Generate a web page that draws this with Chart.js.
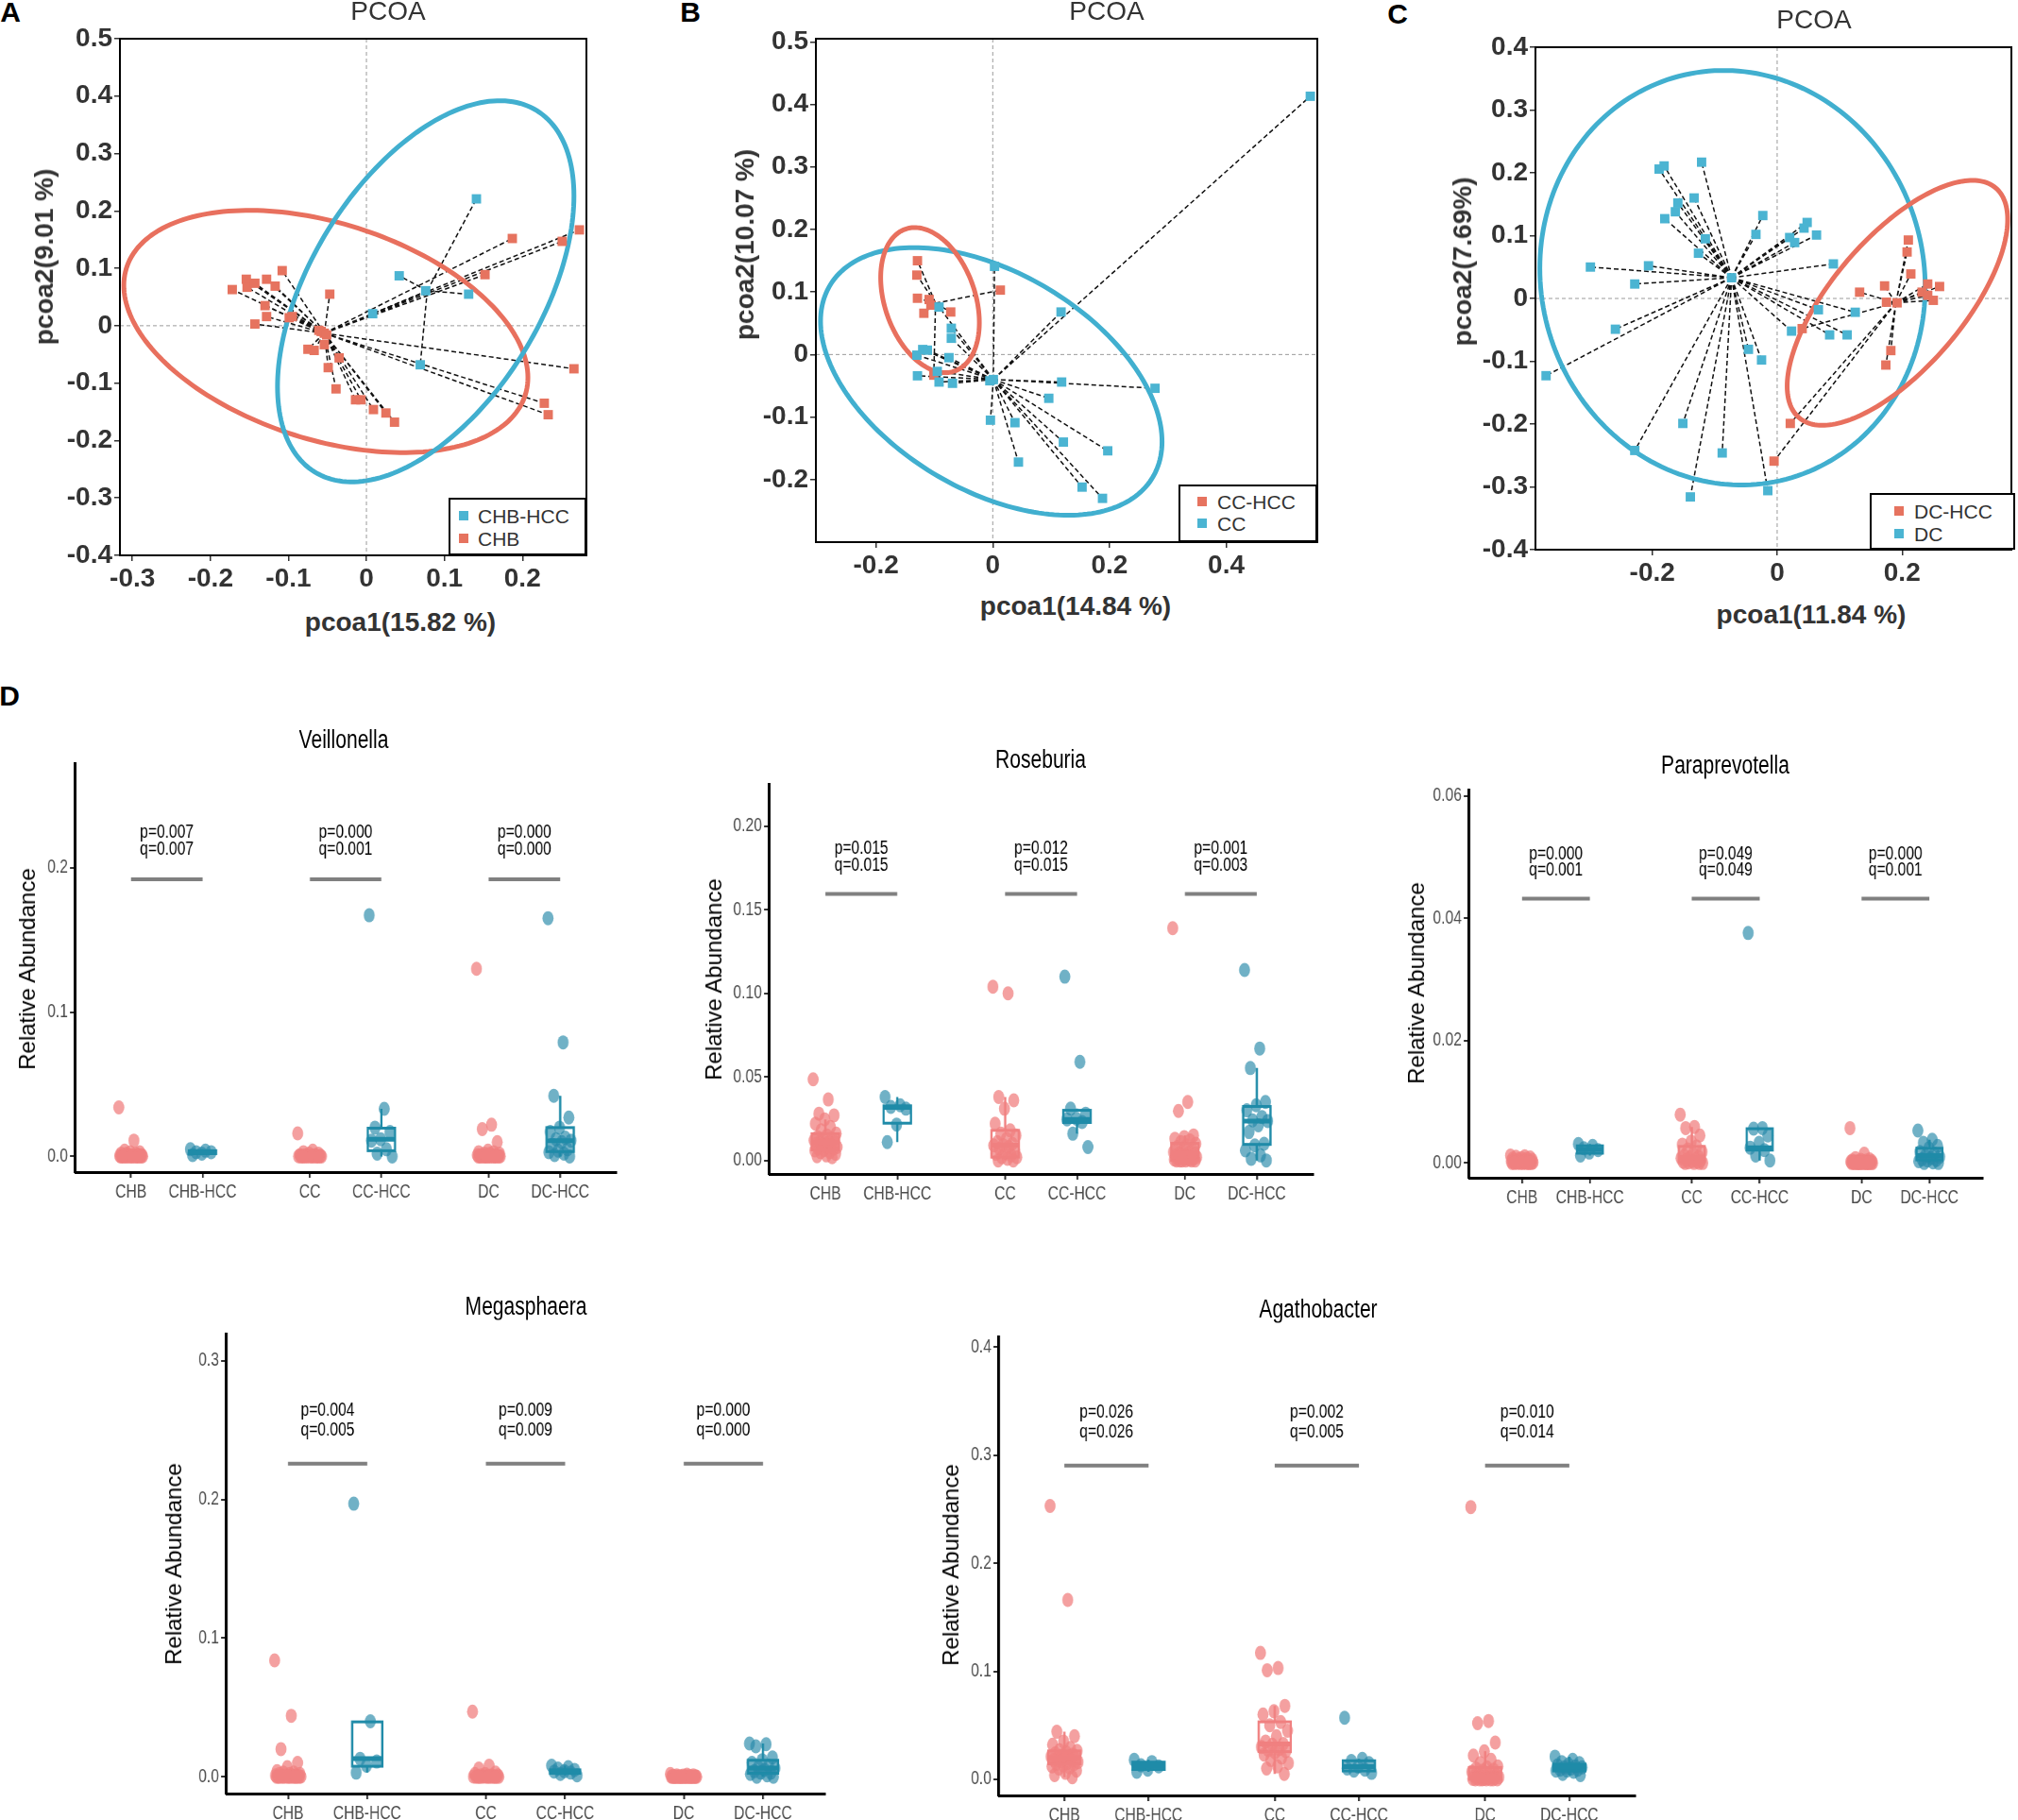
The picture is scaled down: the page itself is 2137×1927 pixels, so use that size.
<!DOCTYPE html>
<html>
<head>
<meta charset="utf-8">
<title>PCoA and relative abundance</title>
<script src="https://cdn.jsdelivr.net/npm/chart.js@4.4.1/dist/chart.umd.min.js"></script>
<style>
  html, body { margin: 0; padding: 0; background: #fff; }
  body { position: relative; width: 2137px; height: 1927px; overflow: hidden; font-family: "Liberation Sans", Arial, sans-serif; }
  canvas { position: absolute; }
  .lbl { position: absolute; white-space: nowrap; line-height: 1; transform: translate(-50%, -50%); }
  .legend { position: absolute; box-sizing: border-box; border: 2px solid #000; background: #fff; }
</style>
</head>
<body>
<script>
// --- 1. Data ---
// PCoA A: CHB vs CHB-HCC  [pcoa1, pcoa2]
const pcoaA_CHB = [[-0.172,0.063],[-0.154,0.081],[-0.153,0.067],[-0.143,0.074],[-0.128,0.081],[-0.117,0.069],[-0.108,0.096],
  [-0.130,0.035],[-0.128,0.016],[-0.143,0.003],[-0.099,0.014],[-0.095,0.016],[-0.047,0.055],[-0.061,-0.008],[-0.054,-0.013],
  [-0.058,-0.010],[-0.051,-0.016],[-0.075,-0.041],[-0.067,-0.043],[-0.054,-0.033],[-0.035,-0.056],[-0.049,-0.073],[-0.039,-0.110],
  [-0.014,-0.129],[-0.007,-0.129],[0.009,-0.146],[0.025,-0.152],[0.036,-0.168],[0.187,0.152],[0.152,0.089],[0.251,0.147],
  [0.273,0.167],[0.266,-0.075],[0.228,-0.135],[0.233,-0.155]];
const pcoaA_HCC = [[0.141,0.221],[0.042,0.087],[0.076,0.061],[0.131,0.055],[0.008,0.021],[0.069,-0.068]];
const cenA_CHB = [-0.054,-0.013], cenA_HCC = [0.078,0.061];
// ellipse: [centre x, centre y, half width, half height, correlation]
const ellA_CHB = [-0.052,-0.010,0.259,0.211,-0.38];
const ellA_HCC = [0.076,0.060,0.190,0.332,0.50];

// PCoA B: CC vs CC-HCC
const pcoaB_HCC = [[-0.129,0.150],[-0.130,0.127],[-0.129,0.090],[-0.109,0.088],[-0.106,0.079],[-0.118,0.066],[-0.072,0.068],
  [0.013,0.103],[-0.101,-0.033]];
const pcoaB_CC = [[0.544,0.413],[0.003,0.141],[-0.092,0.076],[-0.071,0.042],[-0.071,0.026],[-0.130,-0.001],[-0.120,0.008],
  [-0.112,0.007],[-0.075,-0.005],[-0.129,-0.034],[-0.095,-0.027],[-0.092,-0.044],[-0.069,-0.046],[-0.005,-0.042],[0.001,-0.040],
  [0.117,0.068],[0.118,-0.044],[0.278,-0.054],[0.096,-0.070],[-0.004,-0.105],[0.038,-0.109],[0.121,-0.140],[0.197,-0.154],
  [0.044,-0.172],[0.153,-0.212],[0.188,-0.230]];
const cenB_HCC = [-0.098,0.082], cenB_CC = [0.001,-0.040];
const ellB_HCC = [-0.1075,0.087,0.0845,0.116,-0.31];
const ellB_CC = [-0.0025,-0.043,0.2925,0.214,-0.45];

// PCoA C: DC vs DC-HCC
const pcoaC_DC = [[-0.189,0.206],[-0.181,0.211],[-0.121,0.217],[-0.133,0.160],[-0.159,0.152],[-0.163,0.138],[-0.180,0.127],
  [-0.023,0.132],[-0.034,0.102],[-0.115,0.095],[-0.126,0.072],[0.020,0.097],[0.028,0.089],[0.043,0.112],[0.048,0.121],
  [0.063,0.101],[0.090,0.055],[-0.299,0.050],[-0.206,0.052],[-0.228,0.023],[-0.259,-0.049],[-0.370,-0.123],[0.066,-0.018],
  [0.125,-0.022],[0.023,-0.052],[0.084,-0.058],[0.112,-0.058],[-0.046,-0.081],[-0.025,-0.098],[-0.151,-0.199],[-0.228,-0.242],
  [-0.088,-0.246],[-0.139,-0.316],[-0.015,-0.306],[-0.073,0.033]];
const pcoaC_HCC = [[0.210,0.093],[0.208,0.074],[0.214,0.039],[0.172,0.020],[0.132,0.010],[0.175,-0.006],[0.192,-0.007],
  [0.241,0.023],[0.260,0.019],[0.232,0.010],[0.241,0.005],[0.250,-0.003],[0.182,-0.083],[0.174,-0.106],[0.040,-0.048],
  [0.021,-0.199],[-0.005,-0.259]];
const cenC_DC = [-0.073,0.033], cenC_HCC = [0.190,-0.007];
const ellC_DC = [-0.0715,0.033,0.3085,0.330,-0.045];
const ellC_HCC = [0.1925,-0.007,0.1765,0.195,0.68];

// Panel D groups
const groupNames = ['CHB','CHB-HCC','CC','CC-HCC','DC','DC-HCC'];
const groupPos = [1, 2, 3.5, 4.5, 6, 7];

// relative abundance per group (CHB, CHB-HCC, CC, CC-HCC, DC, DC-HCC)
const veillonella = [
  [0.034,0.011,0.004,0.003,0.003,0.002,0.002,0.002,0.001,0.001,0.001,0.001,0.001,0.0005,0.0005,0.0005,0.0005,0.0003,0.0003,0.0003,0.0002,0.0002,0.0002,0.0001,0.0001,0,0,0,0,0,0,0,0],
  [0.005,0.004,0.003,0.003,0.002,0.001],
  [0.016,0.004,0.003,0.002,0.002,0.001,0.001,0.001,0.0005,0.0005,0.0005,0.0003,0.0003,0.0002,0.0002,0.0001,0.0001,0,0,0,0,0,0,0,0],
  [0.167,0.033,0.020,0.017,0.012,0.011,0.005,0.002,0.000],
  [0.130,0.022,0.019,0.010,0.004,0.003,0.003,0.002,0.002,0.002,0.001,0.001,0.001,0.001,0.0005,0.0005,0.0005,0.0005,0.0003,0.0003,0.0003,0.0002,0.0002,0.0001,0.0001,0,0,0,0,0,0,0,0,0],
  [0.165,0.079,0.042,0.027,0.020,0.017,0.013,0.012,0.011,0.010,0.008,0.005,0.004,0.003,0.002,0.001,0.000]
];
const roseburia = [
  [0.0486,0.0365,0.028,0.027,0.0246,0.022,0.020,0.018,0.016,0.015,0.014,0.013,0.013,0.012,0.011,0.011,0.0108,0.010,0.010,0.009,0.009,0.008,0.008,0.007,0.007,0.0063,0.006,0.005,0.005,0.004,0.003,0.0025,0.002],
  [0.038,0.033,0.032,0.031,0.0215,0.011],
  [0.104,0.100,0.038,0.036,0.031,0.022,0.018,0.016,0.015,0.013,0.011,0.010,0.0092,0.009,0.008,0.007,0.006,0.005,0.004,0.003,0.002,0.002,0.001,0.000,0.000],
  [0.110,0.059,0.031,0.028,0.025,0.0246,0.023,0.016,0.008],
  [0.139,0.035,0.0296,0.015,0.014,0.013,0.012,0.011,0.010,0.009,0.008,0.007,0.006,0.005,0.0044,0.004,0.004,0.003,0.003,0.002,0.002,0.002,0.001,0.001,0.001,0.001,0.0005,0.0005,0,0,0,0,0,0],
  [0.114,0.067,0.0553,0.035,0.033,0.030,0.026,0.024,0.0236,0.021,0.017,0.010,0.009,0.006,0.003,0.001,0.000]
];
const paraprevotella = [
  [0.0012,0.0011,0.001,0.0009,0.0008,0.0007,0.0007,0.0006,0.0005,0.0005,0.0004,0.0004,0.0004,0.0003,0.0003,0.0003,0.0002,0.0002,0.0002,0.0002,0.0001,0.0001,0.0001,0.0001,0,0,0,0,0,0,0,0,0],
  [0.0031,0.0028,0.0024,0.0021,0.0017,0.0012],
  [0.0079,0.0059,0.0057,0.0045,0.0035,0.003,0.0027,0.0022,0.0018,0.0015,0.0012,0.001,0.0009,0.0008,0.0006,0.0005,0.0004,0.0003,0.0002,0.0002,0.0001,0,0,0,0],
  [0.0376,0.0057,0.0056,0.0045,0.0033,0.0025,0.0021,0.0012,0.0004],
  [0.0057,0.0015,0.0008,0.0006,0.0005,0.0004,0.0004,0.0003,0.0003,0.0003,0.0002,0.0002,0.0002,0.0002,0.0001,0.0001,0.0001,0.0001,0.0001,0,0,0,0,0,0,0,0,0,0,0,0,0,0,0],
  [0.0053,0.0038,0.0033,0.0028,0.0024,0.0018,0.0015,0.0012,0.001,0.0008,0.0006,0.0005,0.0004,0.0003,0.0001,0,0]
];
const megasphaera = [
  [0.084,0.044,0.020,0.010,0.007,0.004,0.003,0.003,0.002,0.002,0.002,0.001,0.001,0.001,0.001,0.0005,0.0005,0.0005,0.0003,0.0003,0.0002,0.0002,0.0001,0.0001,0,0,0,0,0,0,0,0,0],
  [0.197,0.040,0.013,0.011,0.008,0.003],
  [0.047,0.008,0.006,0.003,0.002,0.002,0.001,0.001,0.001,0.0005,0.0005,0.0003,0.0003,0.0002,0.0001,0,0,0,0,0,0,0,0,0,0],
  [0.008,0.007,0.006,0.005,0.004,0.0037,0.003,0.002,0.001],
  [0.002,0.0015,0.001,0.001,0.0008,0.0006,0.0005,0.0004,0.0003,0.0003,0.0002,0.0002,0.0001,0.0001,0,0,0,0,0,0,0,0,0,0,0,0,0,0,0,0,0,0,0,0],
  [0.024,0.0235,0.022,0.014,0.012,0.010,0.008,0.007,0.0063,0.005,0.004,0.003,0.003,0.002,0.001,0.000,0.000]
];
const agathobacter = [
  [0.253,0.166,0.044,0.040,0.035,0.032,0.029,0.027,0.0263,0.025,0.024,0.023,0.022,0.021,0.021,0.020,0.0198,0.019,0.018,0.018,0.017,0.016,0.015,0.0143,0.014,0.013,0.012,0.011,0.010,0.008,0.006,0.004,0.002],
  [0.018,0.016,0.013,0.012,0.009,0.007],
  [0.117,0.103,0.101,0.068,0.063,0.060,0.053,0.050,0.045,0.040,0.035,0.0327,0.032,0.030,0.028,0.027,0.026,0.025,0.023,0.020,0.018,0.015,0.012,0.010,0.005],
  [0.057,0.019,0.017,0.015,0.0117,0.010,0.009,0.008,0.006],
  [0.252,0.054,0.052,0.034,0.026,0.022,0.018,0.015,0.012,0.011,0.010,0.009,0.008,0.007,0.006,0.005,0.004,0.003,0.003,0.002,0.002,0.002,0.001,0.001,0.001,0.0005,0.0005,0,0,0,0,0,0,0],
  [0.021,0.018,0.016,0.015,0.014,0.013,0.012,0.011,0.011,0.010,0.009,0.009,0.008,0.008,0.007,0.005,0.004]
];

// box stats per group: [lower whisker, q1, median, q3, upper whisker]
const veillonellaBox = [[0,0,0.0005,0.0015,0.003],[0.001,0.002,0.003,0.004,0.005],[0,0,0.0005,0.0015,0.003],[0,0.004,0.012,0.0196,0.033],[0,0,0.0005,0.002,0.004],[0,0.0034,0.011,0.020,0.042]];
const roseburiaBox = [[0.0025,0.0063,0.0108,0.016,0.0246],[0.011,0.0223,0.0317,0.0327,0.038],[0,0.002,0.0092,0.018,0.038],[0.016,0.0227,0.0246,0.030,0.031],[0,0,0.0044,0.0102,0.015],[0,0.0096,0.0236,0.0323,0.0553]];
const paraprevotellaBox = [[0,0.0001,0.0003,0.0006,0.0012],[0.0012,0.0016,0.0022,0.0028,0.0031],[0,0.0002,0.0009,0.0027,0.0059],[0.0004,0.0021,0.0025,0.0056,0.0057],[0,0,0.0001,0.0003,0.0006],[0,0.0005,0.0012,0.0024,0.0038]];
const megasphaeraBox = [[0,0,0.0005,0.002,0.004],[0.003,0.0076,0.0131,0.0396,0.040],[0,0,0.0003,0.0015,0.003],[0.001,0.0025,0.0037,0.005,0.008],[0,0,0,0.0003,0.0008],[0,0.0025,0.0063,0.0119,0.024]];
const agathobacterBox = [[0.002,0.0143,0.0198,0.0263,0.044],[0.007,0.0091,0.0126,0.0159,0.018],[0.005,0.0256,0.0327,0.0532,0.068],[0.006,0.0078,0.0117,0.0172,0.019],[0,0,0.002,0.011,0.026],[0.004,0.0078,0.011,0.014,0.021]];

// significance labels per pair
const veillonellaP = ['p=0.007','p=0.000','p=0.000'], veillonellaQ = ['q=0.007','q=0.001','q=0.000'];
const roseburiaP = ['p=0.015','p=0.012','p=0.001'], roseburiaQ = ['q=0.015','q=0.015','q=0.003'];
const paraprevotellaP = ['p=0.000','p=0.049','p=0.000'], paraprevotellaQ = ['q=0.001','q=0.049','q=0.001'];
const megasphaeraP = ['p=0.004','p=0.009','p=0.000'], megasphaeraQ = ['q=0.005','q=0.009','q=0.000'];
const agathobacterP = ['p=0.026','p=0.002','p=0.010'], agathobacterQ = ['q=0.026','q=0.005','q=0.014'];

// y tick values
const veillonellaTicks = [0, 0.1, 0.2];
const roseburiaTicks = [0, 0.05, 0.10, 0.15, 0.20];
const paraprevotellaTicks = [0, 0.02, 0.04, 0.06];
const megasphaeraTicks = [0, 0.1, 0.2, 0.3];
const agathobacterTicks = [0, 0.1, 0.2, 0.3, 0.4];

// --- 2. Styles ---
const RED_SQ = '#E6735F', BLUE_SQ = '#4BB4D2';
const RED_ELL = '#E8705E', BLUE_ELL = '#41AFCF';
const RED_PT = 'rgba(240,128,128,0.75)', BLUE_PT = 'rgba(38,137,168,0.66)';
const RED_BOX = '#F08080', BLUE_BOX = '#1F8BA8';
const SANS = '"Liberation Sans", Arial, sans-serif';
const SQUEEZE = 0.78;   // panel D text is condensed, so its canvases are drawn wide and shown narrow

// --- 3. Helpers ---
function addCanvas(rect, m, f) {
    const c = document.createElement('canvas');
    const w = rect.r - rect.l + m.l + m.r, h = rect.b - rect.t + m.t + m.b;
    c.width = Math.round(w / f); c.height = h;
    c.style.left = (rect.l - m.l) + 'px';
    c.style.top = (rect.t - m.t) + 'px';
    c.style.width = w + 'px'; c.style.height = h + 'px';
    document.body.appendChild(c);
    return c;
}

function label(text, x, y, css) {
    const d = document.createElement('div');
    d.className = 'lbl';
    d.textContent = text;
    d.style.cssText = `left:${x}px;top:${y}px;` + (css || '');
    document.body.appendChild(d);
}

function legend(box, items) {
    const d = document.createElement('div');
    d.className = 'legend';
    d.style.cssText = `left:${box.l}px;top:${box.t}px;width:${box.r - box.l}px;height:${box.b - box.t}px;`;
    document.body.appendChild(d);
    items.forEach(it => {
        const sq = document.createElement('div');
        sq.style.cssText = `position:absolute;left:${box.sq - 5}px;top:${it.y - 5}px;width:10px;height:10px;background:${it.color};`;
        document.body.appendChild(sq);
        label(it.text, box.tx, it.y, `transform:translate(0,-50%);font-size:21px;color:#333;`);
    });
}

// --- 4. PCoA panels ---
function pcoa(rect, m, xr, yr, xStep, groups) {
    const canvas = addCanvas(rect, m, 1);
    const tickFont = { family: SANS, size: 28, weight: 'bold' };
    const fmt = v => Math.abs(v) < 1e-9 ? '0' : Number(v).toFixed(1);
    const axis = (min, max, step, isX) => ({
        type: 'linear', min, max,
        border: { display: false },
        grid: { display: true, drawOnChartArea: false, drawTicks: true, tickLength: 6, color: '#333', lineWidth: 1.5 },
        ticks: { stepSize: step, includeBounds: false, autoSkip: false, maxRotation: 0, minRotation: 0,
                 color: '#333', font: tickFont, padding: 2, callback: fmt },
        afterFit: s => { if (isX) s.height = m.b; else s.width = m.l; }
    });

    const overlay = {
        id: 'pcoaOverlay',
        beforeDatasetsDraw(chart) {
            const { ctx, chartArea: a, scales: { x, y } } = chart;
            ctx.save();
            ctx.beginPath(); ctx.rect(a.left, a.top, a.width, a.height); ctx.clip();
            // zero reference lines
            ctx.strokeStyle = '#9b9b9b'; ctx.lineWidth = 1; ctx.setLineDash([4, 3]);
            const x0 = x.getPixelForValue(0), y0 = y.getPixelForValue(0);
            ctx.beginPath();
            ctx.moveTo(x0, a.top); ctx.lineTo(x0, a.bottom);
            ctx.moveTo(a.left, y0); ctx.lineTo(a.right, y0);
            ctx.stroke();
            // spider lines to group centroid
            ctx.strokeStyle = '#111'; ctx.lineWidth = 1.5; ctx.setLineDash([5, 3]);
            groups.forEach(g => {
                const cx = x.getPixelForValue(g.cen[0]), cy = y.getPixelForValue(g.cen[1]);
                ctx.beginPath();
                g.pts.forEach(p => { ctx.moveTo(cx, cy); ctx.lineTo(x.getPixelForValue(p[0]), y.getPixelForValue(p[1])); });
                ctx.stroke();
            });
            // confidence ellipses
            ctx.setLineDash([]); ctx.lineWidth = 5;
            groups.forEach(g => {
                const [ex, ey, w, h, rho] = g.ell;
                const s = Math.sqrt(1 - rho * rho);
                ctx.strokeStyle = g.ellColor;
                ctx.beginPath();
                for (let k = 0; k <= 200; k++) {
                    const t = k / 200 * 2 * Math.PI;
                    const px = x.getPixelForValue(ex + w * Math.cos(t));
                    const py = y.getPixelForValue(ey + h * (rho * Math.cos(t) - s * Math.sin(t)));
                    if (k) ctx.lineTo(px, py); else ctx.moveTo(px, py);
                }
                ctx.closePath(); ctx.stroke();
            });
            ctx.restore();
        },
        afterDraw(chart) {
            const { ctx, chartArea: a } = chart;
            ctx.save();
            ctx.strokeStyle = '#000'; ctx.lineWidth = 2;
            ctx.strokeRect(a.left, a.top, a.width, a.height);
            ctx.restore();
        }
    };

    new Chart(canvas, {
        type: 'scatter',
        data: {
            datasets: groups.map(g => ({
                data: g.pts.map(p => ({ x: p[0], y: p[1] })),
                pointStyle: 'rect', pointRadius: 7, pointHoverRadius: 7,
                backgroundColor: g.color, borderWidth: 0
            }))
        },
        options: {
            responsive: false, animation: false, devicePixelRatio: 1,
            layout: { padding: { left: 0, top: m.t, right: m.r, bottom: 0 } },
            plugins: { legend: { display: false }, tooltip: { enabled: false } },
            scales: { x: axis(xr[0], xr[1], xStep, true), y: axis(yr[0], yr[1], 0.1, false) }
        },
        plugins: [overlay]
    });
}

// --- 5. Box + jitter panels ---
function boxPlot(rect, yr, yTicks, dec, points, boxes, barY, pTxt, qTxt, txtSize, pGap, qGap) {
    const m = { l: 62, t: 22, r: 12, b: 48 };
    const f = SQUEEZE;
    const canvas = addCanvas(rect, m, f);
    const jitter = k => ((k * 0.6180339887) % 1 - 0.5) * 0.34;

    const overlay = {
        id: 'boxOverlay',
        afterDatasetsDraw(chart) {
            const { ctx, scales: { x, y } } = chart;
            ctx.save();
            boxes.forEach((b, i) => {
                const px = x.getPixelForValue(groupPos[i]);
                const hw = x.getPixelForValue(groupPos[i] + 0.19) - px;
                const [lo, q1, md, q3, hi] = b.map(v => y.getPixelForValue(v));
                ctx.strokeStyle = i % 2 ? BLUE_BOX : RED_BOX;
                ctx.lineWidth = 3;
                ctx.beginPath();
                ctx.moveTo(px, q3); ctx.lineTo(px, hi);
                ctx.moveTo(px, q1); ctx.lineTo(px, lo);
                ctx.stroke();
                ctx.strokeRect(px - hw, q3, 2 * hw, q1 - q3);
                ctx.lineWidth = 5;
                ctx.beginPath(); ctx.moveTo(px - hw, md); ctx.lineTo(px + hw, md); ctx.stroke();
            });
            ctx.restore();
        },
        afterDraw(chart) {
            const { ctx, scales: { x, y } } = chart;
            ctx.save();
            const by = y.getPixelForValue(barY);
            ctx.strokeStyle = '#808080'; ctx.lineWidth = 4;
            ctx.font = `${txtSize}px ${SANS}`;
            ctx.fillStyle = '#000'; ctx.textAlign = 'center'; ctx.textBaseline = 'middle';
            for (let k = 0; k < 3; k++) {
                const x1 = x.getPixelForValue(groupPos[2 * k]), x2 = x.getPixelForValue(groupPos[2 * k + 1]);
                ctx.beginPath(); ctx.moveTo(x1, by); ctx.lineTo(x2, by); ctx.stroke();
                ctx.fillText(pTxt[k], (x1 + x2) / 2, by - pGap);
                ctx.fillText(qTxt[k], (x1 + x2) / 2, by - qGap);
            }
            ctx.restore();
        }
    };

    const tickFont = { family: SANS, size: 20 };
    new Chart(canvas, {
        type: 'scatter',
        data: {
            datasets: points.map((vals, i) => ({
                data: vals.map((v, k) => ({ x: groupPos[i] + jitter(k), y: v })),
                pointRadius: 7.5, pointHoverRadius: 7.5, borderWidth: 0,
                backgroundColor: i % 2 ? BLUE_PT : RED_PT
            }))
        },
        options: {
            responsive: false, animation: false, devicePixelRatio: 1,
            layout: { padding: { left: 0, top: m.t, right: Math.round(m.r / f), bottom: 0 } },
            plugins: { legend: { display: false }, tooltip: { enabled: false } },
            scales: {
                x: {
                    type: 'linear', min: 0.22, max: 7.78,
                    border: { display: true, color: '#000', width: 3 },
                    grid: { display: true, drawOnChartArea: false, drawTicks: true, tickLength: 6, color: '#333', lineWidth: 2.5 },
                    afterBuildTicks: s => { s.ticks = groupPos.map(v => ({ value: v })); },
                    ticks: { autoSkip: false, maxRotation: 0, minRotation: 0, color: '#4d4d4d', font: tickFont, padding: 3,
                             callback: (v, idx) => groupNames[idx] },
                    afterFit: s => { s.height = m.b; }
                },
                y: {
                    type: 'linear', min: yr[0], max: yr[1],
                    border: { display: true, color: '#000', width: 3.8 },
                    grid: { display: true, drawOnChartArea: false, drawTicks: true, tickLength: 7, color: '#333', lineWidth: 2 },
                    afterBuildTicks: s => { s.ticks = yTicks.map(v => ({ value: v })); },
                    ticks: { autoSkip: false, color: '#4d4d4d', font: tickFont, padding: 3,
                             callback: v => Number(v).toFixed(dec) },
                    afterFit: s => { s.width = Math.round(m.l / f); }
                }
            }
        },
        plugins: [overlay]
    });
}

// --- 6. Build page ---
const pcoaMargin = { l: 70, t: 22, r: 15, b: 50 };

pcoa({ l: 127, t: 41, r: 621, b: 588 }, pcoaMargin, [-0.316, 0.282], [-0.4, 0.5], 0.1, [
    { pts: pcoaA_CHB, cen: cenA_CHB, ell: ellA_CHB, color: RED_SQ, ellColor: RED_ELL },
    { pts: pcoaA_HCC, cen: cenA_HCC, ell: ellA_HCC, color: BLUE_SQ, ellColor: BLUE_ELL }
]);
pcoa({ l: 864, t: 41, r: 1395, b: 574 }, pcoaMargin, [-0.303, 0.556], [-0.3, 0.505], 0.2, [
    { pts: pcoaB_CC, cen: cenB_CC, ell: ellB_CC, color: BLUE_SQ, ellColor: BLUE_ELL },
    { pts: pcoaB_HCC, cen: cenB_HCC, ell: ellB_HCC, color: RED_SQ, ellColor: RED_ELL }
]);
pcoa({ l: 1626, t: 50, r: 2134, b: 582 }, { l: 70, t: 22, r: 3, b: 50 }, [-0.387, 0.375], [-0.4, 0.4], 0.2, [
    { pts: pcoaC_DC, cen: cenC_DC, ell: ellC_DC, color: BLUE_SQ, ellColor: BLUE_ELL },
    { pts: pcoaC_HCC, cen: cenC_HCC, ell: ellC_HCC, color: RED_SQ, ellColor: RED_ELL }
]);

boxPlot({ l: 80, t: 809, r: 652, b: 1241 }, [-0.0108, 0.2717], veillonellaTicks, 1, veillonella, veillonellaBox, 0.192, veillonellaP, veillonellaQ, 20, 49, 31);
boxPlot({ l: 815, t: 831, r: 1390, b: 1243 }, [-0.0081, 0.2248], roseburiaTicks, 2, roseburia, roseburiaBox, 0.1595, roseburiaP, roseburiaQ, 20, 48, 30);
boxPlot({ l: 1556, t: 837, r: 2099, b: 1247 }, [-0.00242, 0.0609], paraprevotellaTicks, 2, paraprevotella, paraprevotellaBox, 0.0432, paraprevotellaP, paraprevotellaQ, 20, 47, 30);
boxPlot({ l: 240, t: 1413, r: 873, b: 1899 }, [-0.0121, 0.319], megasphaeraTicks, 1, megasphaera, megasphaeraBox, 0.2258, megasphaeraP, megasphaeraQ, 20, 56, 35);
boxPlot({ l: 1058, t: 1416, r: 1731, b: 1901 }, [-0.0149, 0.409], agathobacterTicks, 1, agathobacter, agathobacterBox, 0.2904, agathobacterP, agathobacterQ, 20, 56, 35);

// --- 7. Text and legends ---
const letterCss = 'font-size:30px;font-weight:bold;color:#000;';
label('A', 11, 13, letterCss);
label('B', 731, 13, letterCss);
label('C', 1480, 15, letterCss);
label('D', 10, 737, letterCss);

const pcoaTitleCss = 'font-size:28px;color:#333;';
label('PCOA', 411, 12, pcoaTitleCss);
label('PCOA', 1172, 12, pcoaTitleCss);
label('PCOA', 1921, 21, pcoaTitleCss);

const axisTitleCss = 'font-size:28px;font-weight:bold;color:#333;';
const rotCss = 'transform:translate(-50%,-50%) rotate(-90deg);';
label('pcoa1(15.82 %)', 424, 659, axisTitleCss);
label('pcoa1(14.84 %)', 1139, 642, axisTitleCss);
label('pcoa1(11.84  %)', 1918, 651, axisTitleCss);
label('pcoa2(9.01 %)', 47, 272, axisTitleCss + rotCss);
label('pcoa2(10.07 %)', 789, 259, axisTitleCss + rotCss);
label('pcoa2(7.69%)', 1549, 277, axisTitleCss + rotCss);

legend({ l: 475, t: 527, r: 621, b: 588, sq: 491, tx: 506 }, [
    { text: 'CHB-HCC', color: BLUE_SQ, y: 546 },
    { text: 'CHB', color: RED_SQ, y: 570 }
]);
legend({ l: 1248, t: 513, r: 1395, b: 574, sq: 1273, tx: 1289 }, [
    { text: 'CC-HCC', color: RED_SQ, y: 531 },
    { text: 'CC', color: BLUE_SQ, y: 554 }
]);
legend({ l: 1980, t: 522, r: 2134, b: 582, sq: 2011, tx: 2027 }, [
    { text: 'DC-HCC', color: RED_SQ, y: 541 },
    { text: 'DC', color: BLUE_SQ, y: 565 }
]);

const genusCss = `font-size:27px;color:#000;transform:translate(-50%,-50%) scaleX(${SQUEEZE});`;
label('Veillonella', 364, 783, genusCss);
label('Roseburia', 1102, 804, genusCss);
label('Paraprevotella', 1827, 810, genusCss);
label('Megasphaera', 557, 1383, genusCss);
label('Agathobacter', 1396, 1386, genusCss);

const raCss = 'font-size:24px;color:#000;' + rotCss;
label('Relative Abundance', 29, 1026, raCss);
label('Relative Abundance', 756, 1037, raCss);
label('Relative Abundance', 1500, 1041, raCss);
label('Relative Abundance', 184, 1656, raCss);
label('Relative Abundance', 1007, 1657, raCss);
</script>
</body>
</html>
